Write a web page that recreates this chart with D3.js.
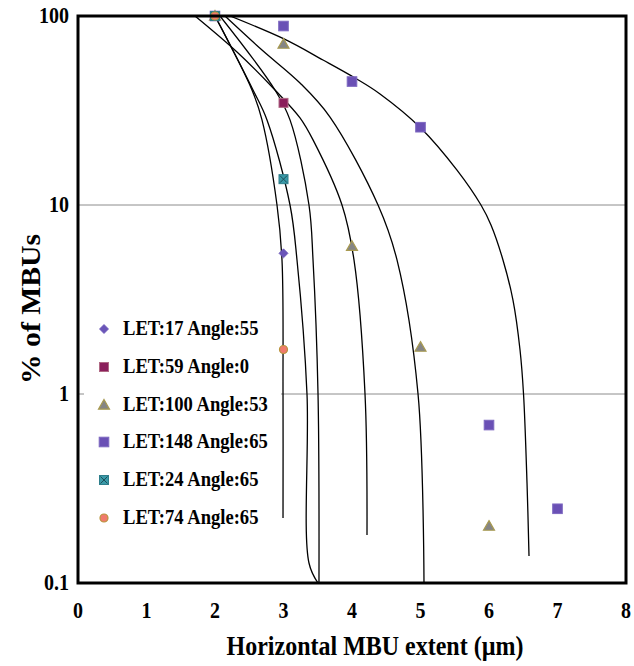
<!DOCTYPE html>
<html>
<head>
<meta charset="utf-8">
<script src="https://cdn.jsdelivr.net/npm/d3@7"></script>
<style>
  html, body { margin: 0; padding: 0; background: #fff; }
  svg { display: block; }
</style>
</head>
<body>
<svg id="chart" width="634" height="666"></svg>
<script>
// Measured MBU fractions per heavy-ion run
const seriesNames = ["LET:17 Angle:55", "LET:59 Angle:0", "LET:100 Angle:53",
                     "LET:148 Angle:65", "LET:24 Angle:65", "LET:74 Angle:65"];
const let17x  = [2, 3];            const let17y  = [100, 5.55];
const let59x  = [2, 3];            const let59y  = [100, 34.7];
const let100x = [2, 3, 4, 5, 6];   const let100y = [100, 71, 6.05, 1.77, 0.2];
const let148x = [2, 3, 4, 5, 6, 7]; const let148y = [100, 88.5, 45, 25.8, 0.685, 0.247];
const let24x  = [2, 3];            const let24y  = [100, 13.7];
const let74x  = [2, 3];            const let74y  = [100, 1.72];

// Fitted trend curves (x in µm, y in %)
const fit1x = [2.00, 2.54, 2.686, 2.905, 2.978, 2.993, 2.993];
const fit1y = [100, 40.6, 28.2, 10, 5.12, 1.0, 0.221];
const fit2x = [2.00, 2.555, 2.759, 3.095, 3.197, 3.343, 3.372, 3.504];
const fit2y = [100, 40.6, 28.2, 10, 5.12, 1.0, 0.1276, 0.1];
const fit3x = [2.073, 2.876, 3.095, 3.372, 3.431, 3.504, 3.518];
const fit3y = [100, 40.6, 28.2, 10, 5.12, 1.0, 0.1];
const fit4x = [1.708, 2.321, 2.876, 3.241, 3.431, 3.854, 4.029, 4.19, 4.219];
const fit4y = [100, 64.5, 40.6, 28.9, 22.1, 10, 5.12, 1.0, 0.1795];
const fit5x = [2.146, 2.686, 3.241, 3.679, 4.380, 4.657, 4.964, 5.051];
const fit5y = [100, 66.1, 44.2, 29.2, 10, 5.12, 1.0, 0.1];
const fit6x = [2.219, 3.007, 3.577, 4.044, 4.409, 5.007, 5.533, 5.883, 6.029,
               6.204, 6.35, 6.453, 6.504, 6.555, 6.584];
const fit6y = [100, 75.6, 58.5, 47.0, 38.7, 25.5, 15.3, 10, 7.84,
               5.12, 3.14, 1.71, 1.0, 0.338, 0.139];

const xTicks = [0, 1, 2, 3, 4, 5, 6, 7, 8];
const yTicks = [0.1, 1, 10, 100];
const yTickLabels = ["0.1", "1", "10", "100"];

const FONT = "'Liberation Serif', 'Times New Roman', serif";

const svg = d3.select("#chart");
const L = 78, R = 626, T = 16, B = 583;
const x = d3.scaleLinear().domain([0, 8]).range([L, R]);
const y = d3.scaleLog().domain([0.1, 100]).range([B, T]);
const yStretch = 1.12;

const zip = (xs, ys) => xs.map((v, i) => [v, ys[i]]);

svg.append("defs").append("clipPath").attr("id", "plotClip")
  .append("rect").attr("x", L).attr("y", T).attr("width", R - L).attr("height", B - T);

// Horizontal gridlines at 1 and 10
svg.append("g").selectAll("line").data([1, 10]).join("line")
  .attr("x1", L).attr("x2", R)
  .attr("y1", d => y(d)).attr("y2", d => y(d))
  .attr("stroke", "#8c8c8c").attr("stroke-width", 1);

// Fit curves
const fits = [zip(fit1x, fit1y), zip(fit2x, fit2y), zip(fit3x, fit3y),
              zip(fit4x, fit4y), zip(fit5x, fit5y), zip(fit6x, fit6y)];
const line = d3.line().x(d => x(d[0])).y(d => y(d[1])).curve(d3.curveCatmullRom.alpha(0.5));
svg.append("g").attr("clip-path", "url(#plotClip)")
  .selectAll("path").data(fits).join("path")
  .attr("d", line).attr("fill", "none")
  .attr("stroke", "#000").attr("stroke-width", 1.3);

// Marker styles
const styles = [
  { shape: "diamond",  fill: "#6a55b8", stroke: "#6a55b8", size: 4.5 },
  { shape: "square",   fill: "#8b1f5c", stroke: "#b06a85", size: 4.5 },
  { shape: "triangle", fill: "#858585", stroke: "#a89a50", size: 5.5 },
  { shape: "square",   fill: "#6a50b5", stroke: "#7d68c0", size: 4.8 },
  { shape: "xsquare",  fill: "#3a9aa8", stroke: "#2e7f8c", size: 4.5 },
  { shape: "circle",   fill: "#f07a6c", stroke: "#b8953c", size: 4 }
];

function drawMarker(g, cx, cy, st) {
  const s = st.size;
  if (st.shape === "diamond") {
    g.append("path").attr("d", `M${cx},${cy - s}L${cx + s},${cy}L${cx},${cy + s}L${cx - s},${cy}Z`)
      .attr("fill", st.fill).attr("stroke", st.stroke).attr("stroke-width", 0.8);
  } else if (st.shape === "square" || st.shape === "xsquare") {
    g.append("rect").attr("x", cx - s).attr("y", cy - s).attr("width", 2 * s).attr("height", 2 * s)
      .attr("fill", st.fill).attr("stroke", st.stroke).attr("stroke-width", 1);
    if (st.shape === "xsquare") {
      g.append("path").attr("d", `M${cx - s + 1},${cy - s + 1}L${cx + s - 1},${cy + s - 1}M${cx + s - 1},${cy - s + 1}L${cx - s + 1},${cy + s - 1}`)
        .attr("stroke", "#1d4f5a").attr("stroke-width", 1);
    }
  } else if (st.shape === "triangle") {
    g.append("path").attr("d", `M${cx},${cy - s}L${cx + s},${cy + s * 0.75}L${cx - s},${cy + s * 0.75}Z`)
      .attr("fill", st.fill).attr("stroke", st.stroke).attr("stroke-width", 1.2);
  } else {
    g.append("circle").attr("cx", cx).attr("cy", cy).attr("r", s)
      .attr("fill", st.fill).attr("stroke", st.stroke).attr("stroke-width", 1.2);
  }
}

function label(g, tx, ty, size, str, anchor, rotate) {
  return g.append("text")
    .attr("transform", `translate(${tx},${ty}) scale(1,${yStretch})` + (rotate ? ` rotate(${rotate})` : ""))
    .attr("font-family", FONT).attr("font-weight", "bold").attr("font-size", size)
    .attr("fill", "#000").attr("text-anchor", anchor || "start").text(str);
}

// Legend (white box over the gridline)
const legendRows = [329, 367, 405, 442, 480, 518];
const lg = svg.append("g");
lg.append("rect").attr("x", 84).attr("y", 310).attr("width", 197).attr("height", 226).attr("fill", "#fff");
seriesNames.forEach((name, i) => {
  drawMarker(lg, 104, legendRows[i], styles[i]);
  label(lg, 123, legendRows[i] + 6, 18.6, name);
});

// Data points
const series = [zip(let17x, let17y), zip(let59x, let59y), zip(let100x, let100y),
                zip(let148x, let148y), zip(let24x, let24y), zip(let74x, let74y)];
const pg = svg.append("g");
series.forEach((pts, i) => pts.forEach(p => drawMarker(pg, x(p[0]), y(p[1]), styles[i])));

// Plot frame
svg.append("rect").attr("x", L).attr("y", T).attr("width", R - L).attr("height", B - T)
  .attr("fill", "none").attr("stroke", "#000").attr("stroke-width", 3);

// Axis tick labels
const tg = svg.append("g");
xTicks.forEach(d => label(tg, x(d), 618, 20, String(d), "middle"));
yTicks.forEach((d, i) => label(tg, 69, y(d) + 7, 20, yTickLabels[i], "end"));

// Axis titles
label(svg, 375, 655, 24, "Horizontal MBU extent (µm)", "middle");
label(svg, 40, 309, 26.5, "% of MBUs", "middle", -90);
</script>
</body>
</html>
